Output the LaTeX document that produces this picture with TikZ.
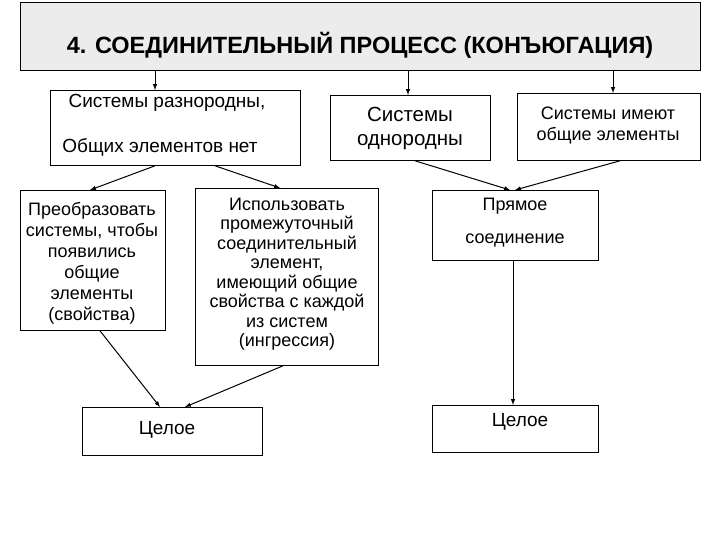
\documentclass[tikz,border=0pt]{standalone}
\usepackage{fontspec}
\setmainfont{Liberation Sans}
\begin{document}
\begin{tikzpicture}[x=1pt,y=-1pt,
  bx/.style={draw,line width=0.8pt,fill=white},
  tx/.style={align=center,font=\fontsize{19}{21}\selectfont},
  ar/.style={-latex,line width=1pt}]
\useasboundingbox (0,0) rectangle (720,540);
\node[bx,fill=gray!15,minimum width=680,minimum height=68,anchor=north west,inner sep=0] (t) at (20,2) {};
\node[font=\fontsize{23.5}{26}\selectfont\bfseries] (tt) at (360,45) {4. СОЕДИНИТЕЛЬНЫЙ ПРОЦЕСС (КОНЪЮГАЦИЯ)};
\node[bx,minimum width=250,minimum height=75,anchor=north west,inner sep=0] (b1) at (50,90) {};
\node[tx] (b1a) at (167,103) {Системы разнородны,};
\node[tx] (b1b) at (160,147) {Общих элементов нет};
\node[bx,minimum width=160,minimum height=65,anchor=north west,inner sep=0] (b2) at (330,95) {};
\node[tx,font=\fontsize{20.5}{24}\selectfont] (b2t) at (410,128) {Системы\\однородны};
\node[bx,minimum width=183,minimum height=67,anchor=north west,inner sep=0] (b3) at (517,93) {};
\node[tx,font=\fontsize{18}{21}\selectfont] (b3t) at (608,126) {Системы имеют\\общие элементы};
\node[bx,minimum width=145,minimum height=140,anchor=north west,inner sep=0] (b4) at (20,190) {};
\node[tx,font=\fontsize{18}{21}\selectfont] (b4t) at (92,263) {Преобразовать\\системы, чтобы\\появились\\общие\\элементы\\(свойства)};
\node[bx,minimum width=183,minimum height=177,anchor=north west,inner sep=0] (b5) at (195,188) {};
\node[tx,font=\fontsize{18}{19.5}\selectfont] (b5t) at (287,274) {Использовать\\промежуточный\\соединительный\\элемент,\\имеющий общие\\свойства с каждой\\из систем\\(ингрессия)};
\node[bx,minimum width=166,minimum height=70,anchor=north west,inner sep=0] (b6) at (432,190) {};
\node[tx,font=\fontsize{18}{21}\selectfont] (b6a) at (515,206) {Прямое};
\node[tx,font=\fontsize{18}{21}\selectfont] (b6b) at (515,240) {соединение};
\node[bx,minimum width=180,minimum height=48,anchor=north west,inner sep=0] (b7) at (82,407) {};
\node[tx] (b7t) at (167,430) {Целое};
\node[bx,minimum width=166,minimum height=47,anchor=north west,inner sep=0] (b8) at (432,405) {};
\node[tx] (b8t) at (520,422) {Целое};
\draw[ar] (t.south -| 155,0) -- (155,90);
\draw[ar] (t.south -| 408,0) -- (408,95);
\draw[ar] (t.south -| 613,0) -- (613,93);
\draw[ar] (b1.south -| 155,0) -- (90,190);
\draw[ar] (b1.south -| 215,0) -- (280,188);
\draw[ar] (b2.south -| 415,0) -- (510,190);
\draw[ar] (b3.south -| 620,0) -- (515,190);
\draw[ar] (b4.south -| 100,0) -- (160,407);
\draw[ar] (b5.south -| 283,0) -- (185,407);
\draw[ar] (b6.south -| 513,0) -- (b8.north -| 513,0);
\end{tikzpicture}
\end{document}
